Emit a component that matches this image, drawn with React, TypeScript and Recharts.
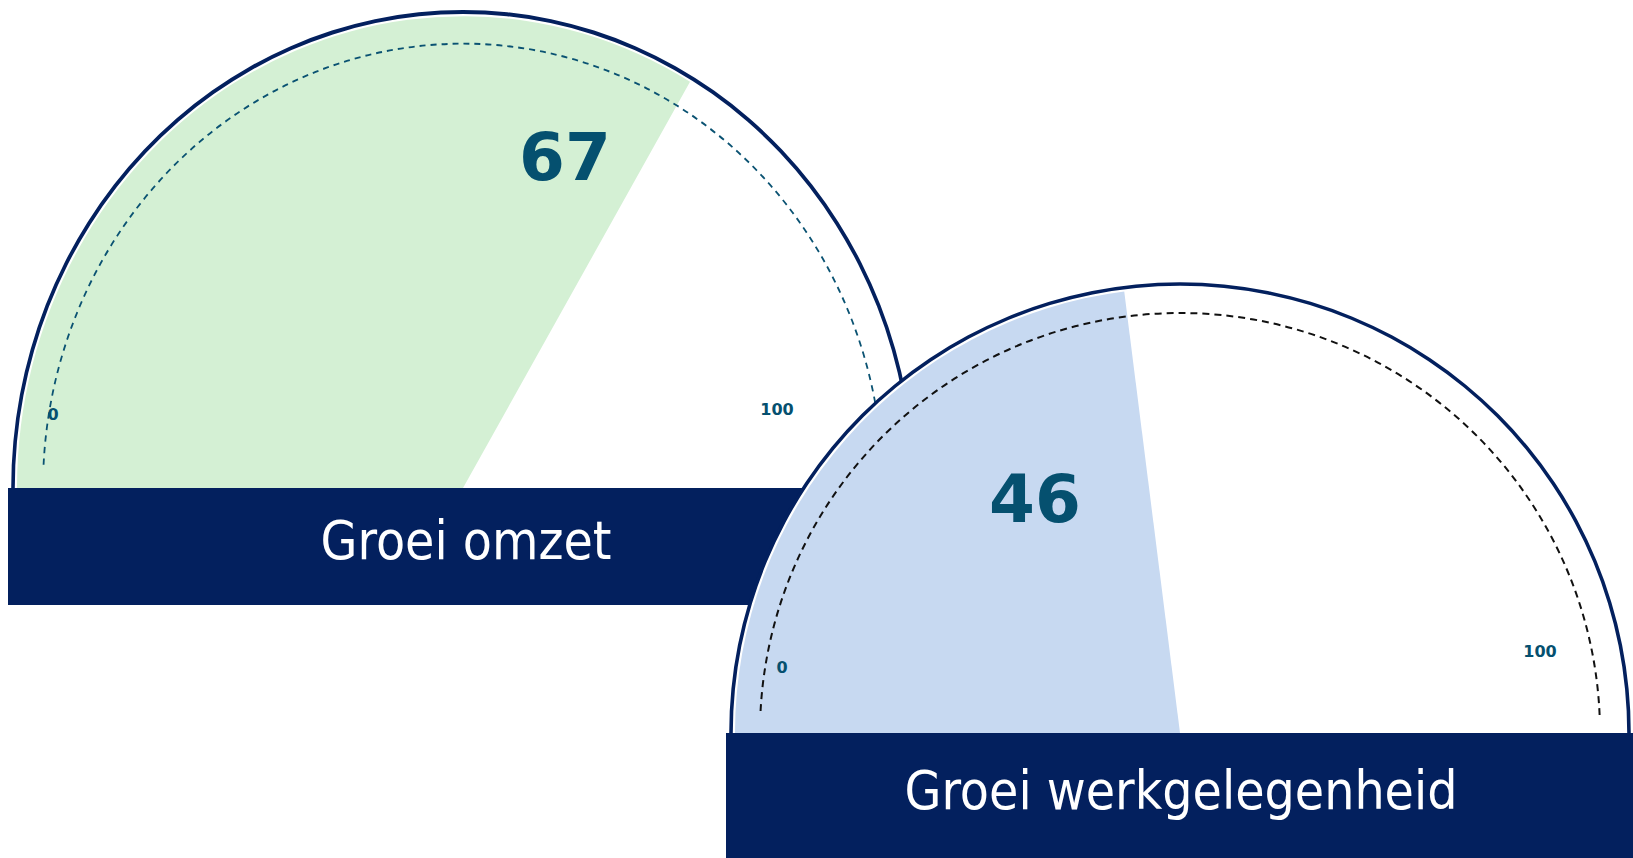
import { PieChart, Pie, Cell } from "recharts";

// gauge data
const titles = ["Groei omzet", "Groei werkgelegenheid"];
const values = [67, 46];
const scaleMin = 0;
const scaleMax = 100;
const tickLabels = [String(scaleMin), String(scaleMax)];

const NAVY = "#03205e";
const TEAL = "#05506f";

// layout of each gauge on the page (pixels)
const layouts = [
  {
    left: 3, top: 23, w: 920, h: 470, cx: 460, cy: 465, stretch: 1.058,
    arcR: 450, fillR: 446, dashR: 420, dashFrom: 177, dashTo: 3,
    fill: "#d4f0d4", dashColor: "#0a5272", dashW: 1.8, dash: 6, gap: 5, background: false,
    valuePos: { x: 565, y: 180 },
    tickPos: [{ x: 53, y: 420 }, { x: 777, y: 415 }],
    bar: { x: 8, y: 488, w: 910, h: 117 },
    titlePos: { x: 466, y: 559 },
  },
  {
    left: 725, top: 278, w: 910, h: 460, cx: 455, cy: 455, stretch: 1,
    arcR: 449, fillR: 445, dashR: 420, dashFrom: 177, dashTo: 2,
    fill: "#c7d9f1", dashColor: "#111111", dashW: 2, dash: 7, gap: 5, background: true,
    valuePos: { x: 1035, y: 522 },
    tickPos: [{ x: 782, y: 673 }, { x: 1540, y: 657 }],
    bar: { x: 726, y: 733, w: 907, h: 125 },
    titlePos: { x: 1181, y: 809 },
  },
];

// dash pattern that only covers the first pass of a zero-width ring path
function dashFor(r: number, from: number, to: number, dash: number, gap: number) {
  const len = (r * Math.abs(from - to) * Math.PI) / 180;
  const parts: number[] = [];
  let acc = 0;
  while (acc + dash <= len) {
    parts.push(dash, gap);
    acc += dash + gap;
  }
  parts.push(0, len * 2 + 50);
  return parts.join(" ");
}

function Gauge({ i }: { i: number }) {
  const L = layouts[i];
  const value = values[i];
  const fillData = [
    { name: "value", value: value - scaleMin },
    { name: "rest", value: scaleMax - value },
  ];
  const one = [{ name: "arc", value: 1 }];
  return (
    <>
      <div
        style={{
          position: "absolute",
          left: L.left,
          top: L.top,
          width: L.w,
          height: L.h,
          transform: `scaleY(${L.stretch})`,
          transformOrigin: `${L.cx}px ${L.cy}px`,
        }}
      >
        <PieChart width={L.w} height={L.h} margin={{ top: 0, right: 0, bottom: 0, left: 0 }}>
          {L.background && (
            <Pie
              data={one}
              dataKey="value"
              cx={L.cx}
              cy={L.cy}
              startAngle={180}
              endAngle={0}
              innerRadius={0}
              outerRadius={L.arcR}
              fill="#ffffff"
              stroke="none"
              isAnimationActive={false}
            />
          )}
          <Pie
            data={fillData}
            dataKey="value"
            cx={L.cx}
            cy={L.cy}
            startAngle={180}
            endAngle={0}
            innerRadius={0}
            outerRadius={L.fillR}
            stroke="none"
            isAnimationActive={false}
          >
            <Cell fill={L.fill} />
            <Cell fill="transparent" />
          </Pie>
          <Pie
            data={one}
            dataKey="value"
            cx={L.cx}
            cy={L.cy}
            startAngle={180}
            endAngle={0}
            innerRadius={L.arcR - 1.8}
            outerRadius={L.arcR + 1.8}
            fill={NAVY}
            stroke="none"
            isAnimationActive={false}
          />
          <Pie
            data={one}
            dataKey="value"
            cx={L.cx}
            cy={L.cy}
            startAngle={L.dashFrom}
            endAngle={L.dashTo}
            innerRadius={L.dashR}
            outerRadius={L.dashR}
            fill="none"
            stroke={L.dashColor}
            strokeWidth={L.dashW}
            strokeDasharray={dashFor(L.dashR, L.dashFrom, L.dashTo, L.dash, L.gap)}
            isAnimationActive={false}
          />
        </PieChart>
      </div>
      <svg
        width={1633}
        height={858}
        style={{ position: "absolute", left: 0, top: 0, pointerEvents: "none" }}
      >
        <rect x={L.bar.x} y={L.bar.y} width={L.bar.w} height={L.bar.h} fill={NAVY} />
        <text
          x={L.titlePos.x}
          y={L.titlePos.y}
          textAnchor="middle"
          fill="#ffffff"
          fontFamily="'DejaVu Sans Condensed', 'DejaVu Sans', sans-serif"
          fontSize={53}
        >
          {titles[i]}
        </text>
        <text
          x={L.valuePos.x}
          y={L.valuePos.y}
          textAnchor="middle"
          fill={TEAL}
          fontFamily="'DejaVu Sans', sans-serif"
          fontWeight="bold"
          fontSize={66}
        >
          {value}
        </text>
        {tickLabels.map((t, k) => (
          <text
            key={t}
            x={L.tickPos[k].x}
            y={L.tickPos[k].y}
            textAnchor="middle"
            fill={TEAL}
            fontFamily="'DejaVu Sans', sans-serif"
            fontWeight="bold"
            fontSize={16}
          >
            {t}
          </text>
        ))}
      </svg>
    </>
  );
}

export default function App() {
  return (
    <div
      style={{
        position: "absolute",
        left: 0,
        top: 0,
        width: 1633,
        height: 858,
        background: "#ffffff",
        overflow: "hidden",
      }}
    >
      <Gauge i={0} />
      <Gauge i={1} />
    </div>
  );
}
